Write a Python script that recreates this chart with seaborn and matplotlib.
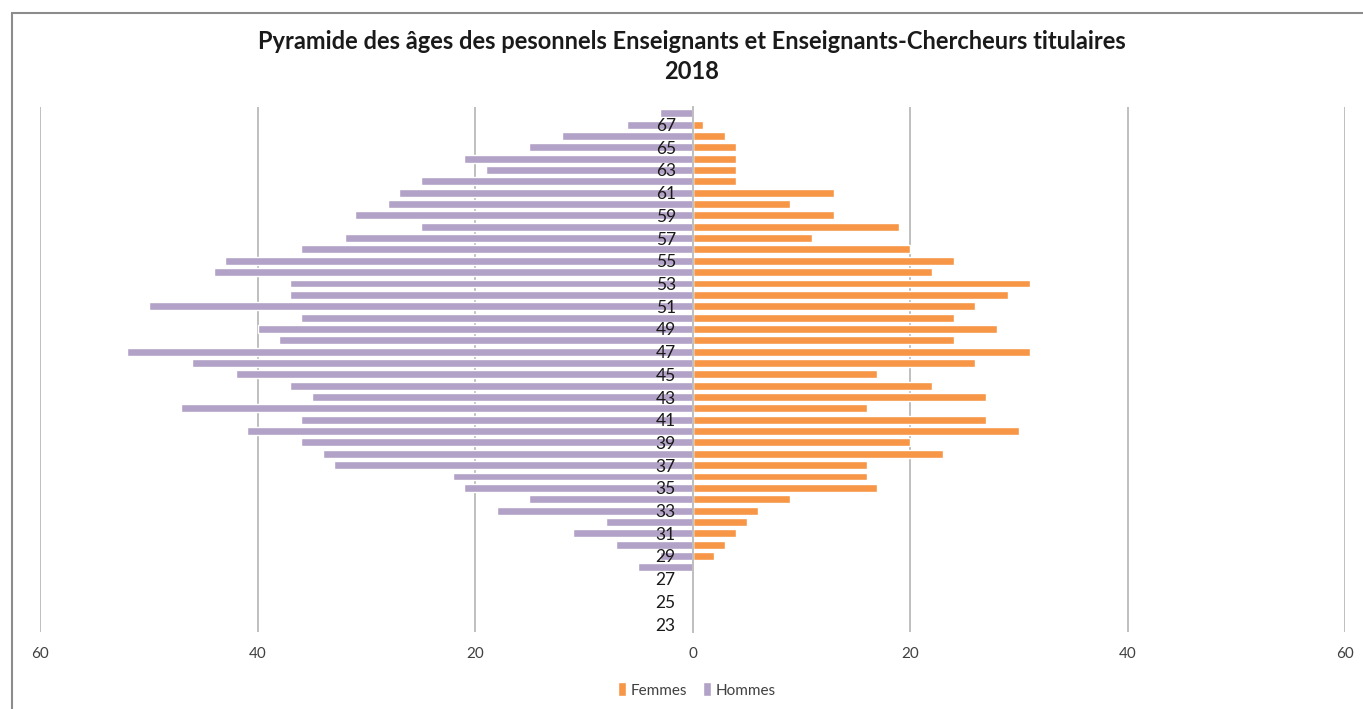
# Pyramide des âges - personnels enseignants titulaires 2018
import pandas as pd
import seaborn as sns
import matplotlib.pyplot as plt
from matplotlib.patches import Rectangle
from matplotlib.ticker import FuncFormatter

# Données (âges 23 à 68)
ages = list(range(23, 69))
hommes = [0, 0, 0, 0, 0, 5, 3, 7, 11, 8, 18, 15, 21, 22, 33, 34, 36, 41, 36, 47,
          35, 37, 42, 46, 52, 38, 40, 36, 50, 37, 37, 44, 43, 36, 32, 25, 31, 28,
          27, 25, 19, 21, 15, 12, 6, 3]
femmes = [0, 0, 0, 0, 0, 0, 2, 3, 4, 5, 6, 9, 17, 16, 16, 23, 20, 30, 27, 16,
          27, 22, 17, 26, 31, 24, 28, 24, 26, 29, 31, 22, 24, 20, 11, 19, 13, 9,
          13, 4, 4, 4, 4, 3, 1, 0]
graduations = [-60, -40, -20, 0, 20, 40, 60]

titre = "Pyramide des âges des pesonnels Enseignants et Enseignants-Chercheurs titulaires\n2018"
couleurs = {"Femmes": "#F79646", "Hommes": "#B3A2C7"}

# tableau long pour seaborn (hommes en négatif)
df = pd.DataFrame({"age": [str(a) for a in ages] * 2,
                   "valeur": femmes + [-h for h in hommes],
                   "sexe": ["Femmes"] * len(ages) + ["Hommes"] * len(ages)})
ordre = [str(a) for a in reversed(ages)]

sns.set_theme(style="white")
plt.rcParams['font.family'] = ['Lato', 'DejaVu Sans']

fig = plt.figure(figsize=(13.63, 7.09), dpi=100)
ax = fig.add_axes([40 / 1363, 1 - 632 / 709, 1305 / 1363, 525 / 709])

sns.barplot(data=df, x="valeur", y="age", hue="sexe", order=ordre,
            hue_order=["Femmes", "Hommes"], palette=couleurs, dodge=False,
            width=0.7, orient="h", saturation=1, errorbar=None, ax=ax)

# grille verticale sous les barres
for g in graduations:
    ax.axvline(g, color="#BFBFBF", lw=1.4, zorder=0.3)

ax.set_xlim(-60, 60)
ax.set_ylim(len(ages) - 1 + 0.7, -0.55)
ax.set_xticks(graduations)
ax.xaxis.set_major_formatter(FuncFormatter(lambda v, p: f"{abs(int(v))}"))
ax.tick_params(axis="x", length=0, pad=11, labelsize=11, labelcolor="#404040")

# étiquettes d'âge au centre, une sur deux
ax.set_yticks(range(len(ordre)))
ax.set_yticklabels([a if int(a) % 2 == 1 else "" for a in ordre])
ax.tick_params(axis="y", length=0, pad=12, labelsize=12.5, labelcolor="#1a1a1a")
for lab in ax.get_yticklabels():
    lab.set_bbox(dict(facecolor="white", edgecolor="none", pad=0.5))
ax.yaxis.set_zorder(3)

ax.spines["left"].set_position(("data", 0))
ax.spines["left"].set_color("#BFBFBF")
ax.spines["left"].set_linewidth(1.4)
for s in ["top", "right", "bottom"]:
    ax.spines[s].set_visible(False)
ax.set_xlabel("")
ax.set_ylabel("")

sns.move_legend(ax, "center", bbox_to_anchor=(697 / 1363, 1 - 690 / 709),
                bbox_transform=fig.transFigure, ncol=2, frameon=False, title=None,
                fontsize=11, handlelength=0.55, handleheight=1.0, handletextpad=0.3,
                columnspacing=1.0, labelcolor="#404040")

fig.text(692 / 1363, 1 - 56.5 / 709, titre, ha="center", va="center",
         fontsize=17, fontweight="bold", color="#1a1a1a", linespacing=1.35)

# cadre du graphique
fig.patches.append(Rectangle((12 / 1363, -0.1), 1.2, 1 - 13 / 709 + 0.1,
                             transform=fig.transFigure, fill=False,
                             edgecolor="#8c8c8c", lw=1.5))

fig.savefig("out.png", dpi=100)
